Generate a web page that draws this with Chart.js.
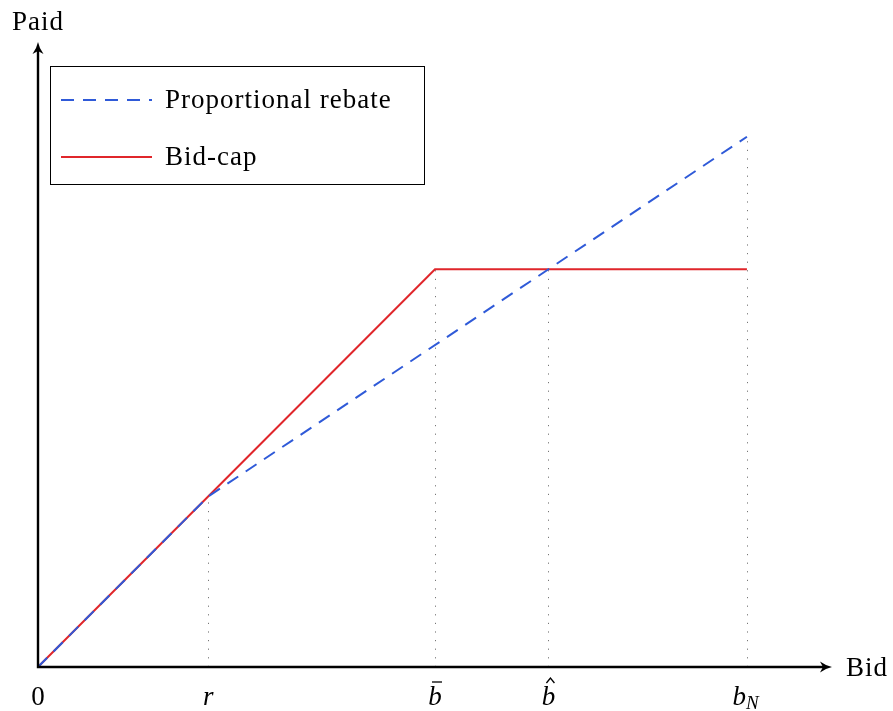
<!DOCTYPE html>
<html>
<head>
<meta charset="utf-8">
<script src="https://cdn.jsdelivr.net/npm/chart.js@4"></script>
<style>
  html, body { margin: 0; padding: 0; background: #fff; }
  #wrap { width: 893px; height: 711px; }
</style>
</head>
<body>
<div id="wrap"><canvas id="chart" width="893" height="711"></canvas></div>
<script>
const d = document;

// bid levels on the x axis: 0, r, b-bar, b-hat, b_N
const bidTicks = [0, 3, 7, 9, 12.5];
const tickNames = ['0', 'r', 'bar', 'hat', 'bN'];

// paid amount for each scheme
const rebateX = [0, 3, 12.5];
const rebateY = [0, 3, 9.333];
const capX = [0, 3, 7, 12.5];
const capY = [0, 3, 7, 7];

const seriesNames = ['Proportional rebate', 'Bid-cap'];
const blue = '#2f5ad8';
const red = '#e0262b';
const serif = '"Liberation Serif", "DejaVu Serif", serif';
const fs = 27;

const pts = (xs, ys) => xs.map((x, i) => ({ x: x, y: ys[i] }));

// height of the highest curve at a given bid
function topAt(x) {
    const at = (xs, ys) => {
        for (let i = 1; i < xs.length; i++) {
            if (x <= xs[i]) {
                const t = (x - xs[i - 1]) / (xs[i] - xs[i - 1]);
                return ys[i - 1] + t * (ys[i] - ys[i - 1]);
            }
        }
        return ys[ys.length - 1];
    };
    return Math.max(at(rebateX, rebateY), at(capX, capY));
}

function arrow(ctx, x, y, dir) {
    ctx.save();
    ctx.translate(x, y);
    if (dir === 'up') ctx.rotate(-Math.PI / 2);
    ctx.beginPath();
    ctx.moveTo(0, 0);
    ctx.quadraticCurveTo(-6, -1.2, -12, -5.5);
    ctx.lineTo(-9, 0);
    ctx.lineTo(-12, 5.5);
    ctx.quadraticCurveTo(-6, 1.2, 0, 0);
    ctx.closePath();
    ctx.fillStyle = '#000';
    ctx.fill();
    ctx.restore();
}

const under = {
    id: 'under',
    beforeDatasetsDraw(chart) {
        const ctx = chart.ctx, xs = chart.scales.x, ys = chart.scales.y;
        ctx.save();
        ctx.strokeStyle = '#777';
        ctx.lineWidth = 1;
        ctx.setLineDash([1.2, 7.4]);
        bidTicks.slice(1).forEach(b => {
            const px = Math.round(xs.getPixelForValue(b)) + 0.5;
            ctx.beginPath();
            ctx.moveTo(px, ys.getPixelForValue(0));
            ctx.lineTo(px, ys.getPixelForValue(topAt(b)));
            ctx.stroke();
        });
        ctx.restore();
    }
};

const decor = {
    id: 'decor',
    afterDatasetsDraw(chart) {
        const ctx = chart.ctx, xs = chart.scales.x, ys = chart.scales.y;
        const x0 = xs.getPixelForValue(0), y0 = ys.getPixelForValue(0);
        const area = chart.chartArea;
        ctx.save();

        // axes
        ctx.strokeStyle = '#000';
        ctx.lineWidth = 2.4;
        ctx.beginPath();
        ctx.moveTo(x0 - 1.2, y0);
        ctx.lineTo(area.right - 6, y0);
        ctx.moveTo(x0, y0 + 1.2);
        ctx.lineTo(x0, area.top + 6);
        ctx.stroke();
        arrow(ctx, area.right, y0, 'right');
        arrow(ctx, x0, area.top, 'up');

        ctx.fillStyle = '#000';
        ctx.letterSpacing = '1px';
        ctx.font = fs + 'px ' + serif;
        ctx.textBaseline = 'alphabetic';
        ctx.textAlign = 'center';
        ctx.fillText('Paid', x0, 30);
        ctx.textAlign = 'left';
        ctx.fillText('Bid', area.right + 14, y0 + 9);
        ctx.letterSpacing = '0px';

        // tick labels
        const base = 705;
        bidTicks.forEach((b, i) => {
            const px = xs.getPixelForValue(b);
            const n = tickNames[i];
            ctx.textAlign = 'center';
            if (n === '0') {
                ctx.font = fs + 'px ' + serif;
                ctx.fillText('0', px, base);
            } else if (n === 'r') {
                ctx.font = 'italic ' + fs + 'px ' + serif;
                ctx.fillText('r', px, base);
            } else if (n === 'bar' || n === 'hat') {
                ctx.font = 'italic ' + fs + 'px ' + serif;
                ctx.fillText('b', px, base);
                ctx.lineWidth = 1.3;
                ctx.beginPath();
                if (n === 'bar') {
                    ctx.moveTo(px - 3, base - 23);
                    ctx.lineTo(px + 7, base - 23);
                } else {
                    ctx.moveTo(px - 2, base - 22);
                    ctx.lineTo(px + 2, base - 27);
                    ctx.lineTo(px + 6, base - 22);
                }
                ctx.stroke();
            } else {
                ctx.font = 'italic ' + fs + 'px ' + serif;
                ctx.textAlign = 'right';
                ctx.fillText('b', px - 1, base);
                ctx.font = 'italic 19px ' + serif;
                ctx.textAlign = 'left';
                ctx.fillText('N', px - 1, base + 4);
            }
        });

        // legend box
        ctx.lineWidth = 1;
        ctx.setLineDash([]);
        ctx.strokeRect(50.5, 66.5, 374, 118);
        ctx.lineWidth = 2;
        ctx.strokeStyle = blue;
        ctx.setLineDash([13, 9]);
        ctx.beginPath();
        ctx.moveTo(61, 100);
        ctx.lineTo(152, 100);
        ctx.stroke();
        ctx.setLineDash([]);
        ctx.strokeStyle = red;
        ctx.beginPath();
        ctx.moveTo(61, 157);
        ctx.lineTo(152, 157);
        ctx.stroke();
        ctx.fillStyle = '#000';
        ctx.font = fs + 'px ' + serif;
        ctx.letterSpacing = '1px';
        ctx.textAlign = 'left';
        ctx.fillText(seriesNames[0], 165, 108);
        ctx.fillText(seriesNames[1], 165, 165);
        ctx.restore();
    }
};

new Chart(d.getElementById('chart'), {
    type: 'scatter',
    data: {
        datasets: [
            {
                label: seriesNames[0],
                data: pts(rebateX, rebateY),
                showLine: true,
                borderColor: blue,
                borderWidth: 2,
                borderDash: [13, 9],
                pointRadius: 0,
                tension: 0
            },
            {
                label: seriesNames[1],
                data: pts(capX, capY),
                showLine: true,
                borderColor: red,
                borderWidth: 2,
                pointRadius: 0,
                tension: 0
            }
        ]
    },
    options: {
        responsive: false,
        animation: false,
        layout: { padding: { left: 38, right: 61, top: 42, bottom: 44 } },
        scales: {
            x: { type: 'linear', min: 0, max: 14, display: false },
            y: { type: 'linear', min: 0, max: 11, display: false }
        },
        plugins: {
            legend: { display: false },
            tooltip: { enabled: false }
        }
    },
    plugins: [under, decor]
});
</script>
</body>
</html>
